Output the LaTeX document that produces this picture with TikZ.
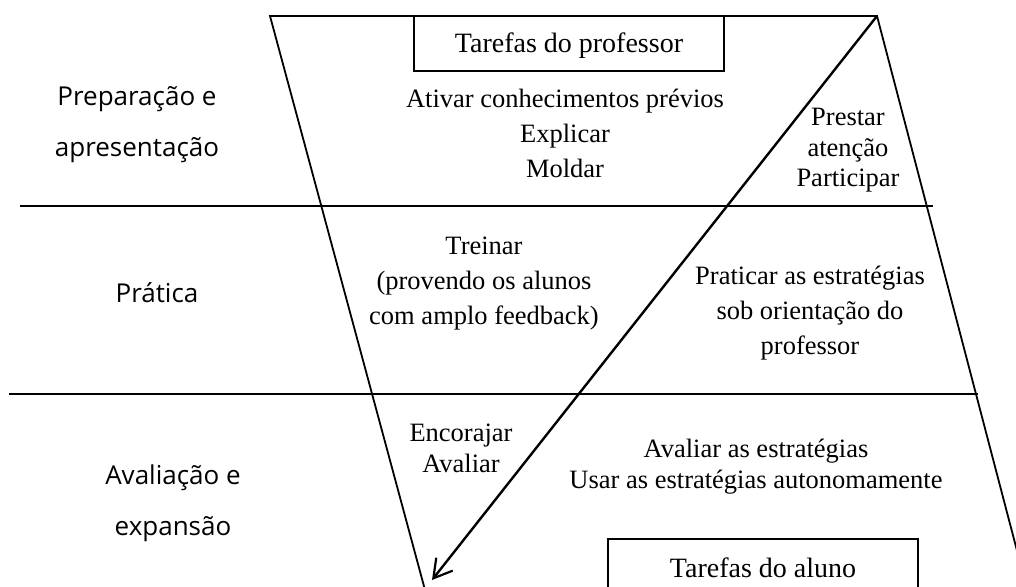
\documentclass[tikz,border=0pt]{standalone}
\usepackage{fontspec}
\setmainfont{Liberation Serif}
\newfontfamily\handfont{Open Sans}
\usetikzlibrary{arrows.meta}
\begin{document}
\begin{tikzpicture}[x=0.5pt,y=-0.5pt,
  frame/.style={line width=0.9pt},
  hline/.style={line width=1.3pt},
  arr/.style={line width=1.2pt,-{Straight Barb[length=9pt,width=10.5pt,line width=1.1pt]}},
  box/.style={draw,line width=1pt,inner sep=0pt,font=\fontsize{14}{16}\selectfont},
  body/.style={inner sep=0pt,anchor=base,align=center},
  sz35/.style={font=\fontsize{13.25}{17.5}\selectfont},
  sz31/.style={font=\fontsize{13.25}{15.4}\selectfont},
  hand/.style={inner sep=0pt,anchor=base,align=center,font=\handfont\fontsize{13}{25.5}\selectfont}]
\useasboundingbox (0,0) rectangle (1016,587);
\clip (0,0) rectangle (1016,587);
\fill[white] (0,0) rectangle (1016,587);
% frame coordinates
\coordinate (tl) at (270,16);
\coordinate (apex) at (877,16);
\coordinate (lb) at (427.7,600);
\coordinate (rb) at (1043,650);
\coordinate (h1a) at (20,206);
\coordinate (h1b) at (933,206);
\coordinate (h2a) at (9,394);
\coordinate (h2b) at (978,394);
\coordinate (tip) at (432,580);
\draw[frame,line join=miter] (lb) -- (tl) -- (apex) -- (rb);
\draw[hline] (h1a) -- (h1b);
\draw[hline] (h2a) -- (h2b);
\draw[arr] (apex) -- (tip);
% boxes
\node[box,minimum width=155pt,minimum height=27.5pt,text height=12pt,text depth=2.5pt] (tprof) at (569,43.5) {Tarefas do professor};
\node[box,minimum width=155pt,minimum height=40pt,text height=10pt,text depth=12pt] (talu) at (763,579) {Tarefas do aluno};
% body texts (base = last line)
\node[body,sz35] (ativar) at (565,178) {Ativar conhecimentos prévios\\Explicar\\Moldar};
\node[body,sz31] (prestar) at (848,187) {Prestar\\atenção\\Participar};
\node[body,sz35] (treinar) at (484,325) {Treinar\\(provendo os alunos\\com amplo feedback)};
\node[body,sz35] (praticar) at (810,355) {Praticar as estratégias\\sob orientação do\\professor};
\node[body,sz31] (encorajar) at (461,472) {Encorajar\\Avaliar};
\node[body,sz31] (avaliar) at (756,488) {Avaliar as estratégias\\Usar as estratégias autonomamente};
% phase labels
\node[hand] (prep) at (137,157) {Preparação e\\apresentação};
\node[hand] (pratica) at (157,303) {Prática};
\node[hand] (aval) at (173,535) {Avaliação e\\expansão};
\end{tikzpicture}
\end{document}
